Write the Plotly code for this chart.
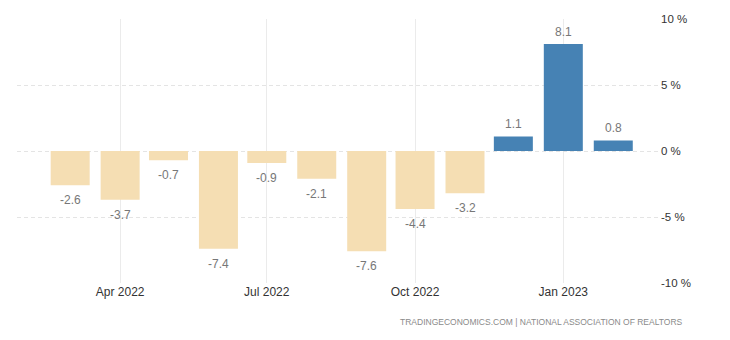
import plotly.graph_objects as go

# Monthly change in existing home sales (%)
months = ["2022-03-01", "2022-04-01", "2022-05-01", "2022-06-01", "2022-07-01",
          "2022-08-01", "2022-09-01", "2022-10-01", "2022-11-01", "2022-12-01",
          "2023-01-01", "2023-02-01"]
values = [-2.6, -3.7, -0.7, -7.4, -0.9, -2.1, -7.6, -4.4, -3.2, 1.1, 8.1, 0.8]

tick_dates = ["2022-04-01", "2022-07-01", "2022-10-01", "2023-01-01"]
tick_text = ["Apr 2022", "Jul 2022", "Oct 2022", "Jan 2023"]
y_ticks = [-10, -5, 0, 5, 10]

POS_COLOR = "#4682B4"
NEG_COLOR = "#F5DEB3"
DAY_MS = 86400000
FONT = "Liberation Sans, Arial, sans-serif"

colors = [POS_COLOR if v >= 0 else NEG_COLOR for v in values]

fig = go.Figure(
    go.Bar(
        x=months,
        y=values,
        width=[24.2 * DAY_MS] * len(values),
        marker=dict(color=colors, line=dict(width=0)),
        hoverinfo="x+y",
    )
)

# value labels just beyond the end of each bar
annotations = [
    dict(
        x=m, y=v, xref="x", yref="y",
        text=f"{v:.1f}",
        showarrow=False,
        yanchor="middle",
        yshift=12 if v >= 0 else -15,
        font=dict(family=FONT, size=12, color="#777777"),
    )
    for m, v in zip(months, values)
]

annotations.append(
    dict(
        text="TRADINGECONOMICS.COM | NATIONAL ASSOCIATION OF REALTORS",
        xref="paper", yref="paper",
        x=1.039, y=-0.148,
        xanchor="right", yanchor="middle",
        showarrow=False,
        font=dict(family=FONT, size=8.5, color="#8a8a8a"),
    )
)

fig.update_layout(
    width=730,
    height=340,
    margin=dict(l=17, r=70, t=19, b=57),
    paper_bgcolor="white",
    plot_bgcolor="white",
    showlegend=False,
    font=dict(family=FONT, size=12, color="#333333"),
    xaxis=dict(
        type="date",
        range=["2022-01-27", "2023-03-02"],
        tickvals=tick_dates,
        ticktext=tick_text,
        showgrid=True,
        gridcolor="#ebebeb",
        gridwidth=1,
        showline=False,
        zeroline=False,
        ticks="",
        tickfont=dict(size=12, color="#333333"),
    ),
    yaxis=dict(
        side="right",
        range=[-10, 10],
        tickvals=y_ticks,
        ticktext=[f"{t} %" for t in y_ticks],
        showgrid=True,
        gridcolor="#e4e4e4",
        griddash="4px,3px",
        gridwidth=1,
        zeroline=False,
        showline=False,
        ticks="",
        tickfont=dict(size=11.5, color="#333333"),
    ),
    annotations=annotations,
)

fig.write_html("out.html")
